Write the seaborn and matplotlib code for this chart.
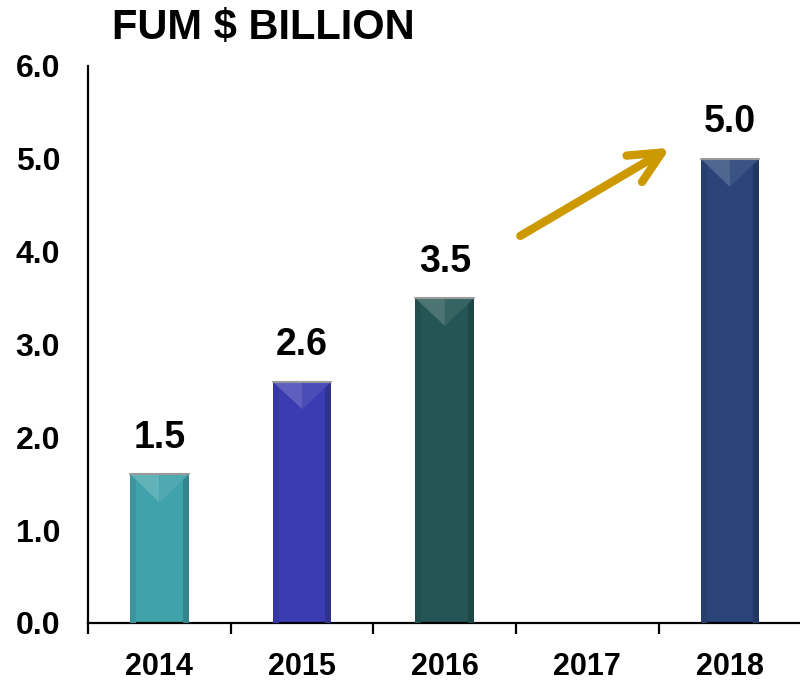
import matplotlib
matplotlib.use("Agg")
import matplotlib.pyplot as plt
from matplotlib.patches import Polygon, Rectangle
import matplotlib.colors as mcolors
import numpy as np
import pandas as pd
import seaborn as sns

# values
years = ["2014", "2015", "2016", "2017", "2018"]
fum = [1.6, 2.6, 3.5, np.nan, 5.0]
value_labels = ["1.5", "2.6", "3.5", "", "5.0"]
bar_colors = ["#40a2aa", "#3c3cb2", "#235654", "#ffffff", "#2a4479"]
y_ticks = [0.0, 1.0, 2.0, 3.0, 4.0, 5.0, 6.0]


def shade(color, amount):
    # amount > 0 lightens, < 0 darkens
    rgb = np.array(mcolors.to_rgb(color))
    if amount > 0:
        return tuple(rgb + (1 - rgb) * amount)
    return tuple(rgb * (1 + amount))


sns.set_style("white")
plt.rcParams["font.family"] = ["Liberation Sans", "DejaVu Sans"]
plt.rcParams["font.weight"] = "bold"
plt.rcParams["text.color"] = "black"
plt.rcParams["xtick.color"] = "black"
plt.rcParams["ytick.color"] = "black"

df = pd.DataFrame({"year": years, "fum": fum})

fig = plt.figure(figsize=(8, 6.81), dpi=100)
ax = fig.add_axes([0.11, 0.0852, 0.89, 0.8179])

sns.barplot(data=df, x="year", y="fum", order=years, hue="year",
            palette=bar_colors, legend=False, width=0.41,
            linewidth=0, saturation=1, ax=ax)

# bevelled look on each bar
drawn_colors = [c for c, v in zip(bar_colors, fum) if not np.isnan(v)]
for patch, col in zip(ax.patches, drawn_colors):
    x0, y0 = patch.get_x(), patch.get_y()
    w, h = patch.get_width(), patch.get_height()
    if np.isnan(h) or h == 0:
        continue
    top = y0 + h
    edge = w * 0.1
    ax.add_patch(Rectangle((x0, y0), edge, h, color=shade(col, -0.08), lw=0, zorder=3))
    ax.add_patch(Rectangle((x0 + w - edge, y0), edge, h, color=shade(col, -0.18), lw=0, zorder=3))
    ax.add_patch(Polygon([(x0, top), (x0 + w / 2, top), (x0 + w / 2, top - 0.3)],
                         closed=True, color=shade(col, 0.18), lw=0, zorder=4))
    ax.add_patch(Polygon([(x0 + w / 2, top), (x0 + w, top), (x0 + w / 2, top - 0.3)],
                         closed=True, color=shade(col, 0.08), lw=0, zorder=4))
    ax.plot([x0, x0 + w], [top, top], color="#9a9a9a", lw=1.5, zorder=5)

for i, (v, lab) in enumerate(zip(fum, value_labels)):
    if lab:
        ax.text(i, v + 0.2, lab, ha="center", va="bottom",
                fontsize=27, fontweight="bold", color="black")

# growth arrow
ax.annotate("", xy=(3.58, 5.12), xytext=(2.53, 4.17),
            arrowprops=dict(arrowstyle="->,head_length=2.3,head_width=1.1",
                            color="#cc9a00", lw=6, shrinkA=0, shrinkB=0,
                            joinstyle="round", capstyle="round"))

ax.set_xlim(-0.5, 4.49)
ax.set_ylim(0, 6.0)
ax.set_yticks(y_ticks)
ax.set_yticklabels([f"{t:.1f}" for t in y_ticks])
ax.set_xticks(range(len(years)))
ax.set_xticklabels(years)
ax.set_xticks(np.arange(-0.5, len(years) - 1, 1.0), minor=True)
ax.set_xlabel("")
ax.set_ylabel("")

for side in ["top", "right"]:
    ax.spines[side].set_visible(False)
for side in ["left", "bottom"]:
    ax.spines[side].set_color("black")
    ax.spines[side].set_linewidth(1.6)

ax.tick_params(axis="y", which="major", direction="out", length=8, width=1.6,
               color="black", pad=12, labelsize=23, labelcolor="black")
ax.tick_params(axis="x", which="major", length=0, pad=21, labelsize=22,
               labelcolor="black")
ax.tick_params(axis="x", which="minor", direction="out", length=8, width=1.6,
               color="black", bottom=True)
for lab in ax.get_xticklabels() + ax.get_yticklabels():
    lab.set_fontweight("bold")

fig.text(112 / 800, 1 - 28 / 681, "FUM $ BILLION", ha="left", va="center",
         fontsize=30, fontweight="bold", color="black")

fig.savefig("out.png", dpi=100)
